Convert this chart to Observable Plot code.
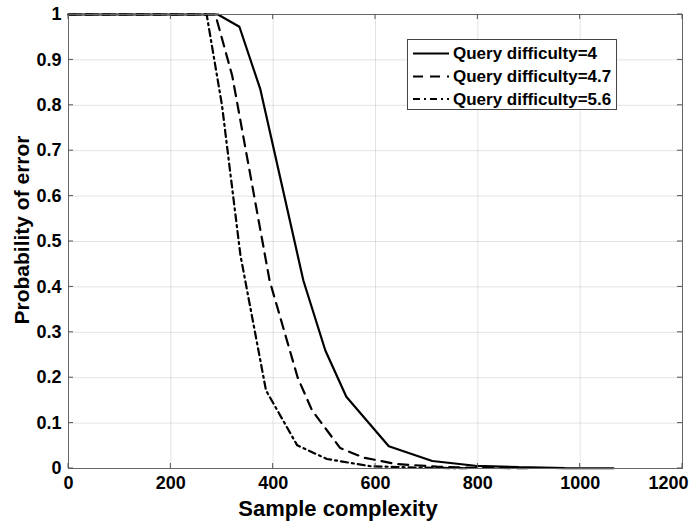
<!DOCTYPE html>
<html><head><meta charset="utf-8">
<script src="https://cdn.jsdelivr.net/npm/d3@7"></script>
<script src="https://cdn.jsdelivr.net/npm/@observablehq/plot@0.6"></script>
<style>html,body{margin:0;padding:0;background:#fff}#chart{width:689px;height:522px;overflow:hidden}</style>
</head><body><div id="chart"></div>
<script>
const seriesNames = ["Query difficulty=4", "Query difficulty=4.7", "Query difficulty=5.6"];
const x4  = [0, 292, 334, 375, 459, 502, 543, 626, 711, 795, 880, 970, 1065];
const y4  = [1, 1, 0.973, 0.835, 0.414, 0.26, 0.158, 0.049, 0.0165, 0.006, 0.003, 0.001, 0.0005];
const x47 = [0, 287, 320, 393, 448, 476, 531, 577, 640, 720, 800, 900];
const y47 = [1, 1, 0.865, 0.414, 0.20, 0.128, 0.045, 0.024, 0.01, 0.004, 0.0015, 0.0005];
const x56 = [0, 270, 300, 336, 386, 447, 505, 590, 680, 780];
const y56 = [1, 1, 0.80, 0.47, 0.172, 0.051, 0.021, 0.005, 0.002, 0.0005];
const xTicks = [0, 200, 400, 600, 800, 1000, 1200];
const yTicks = [0, 0.1, 0.2, 0.3, 0.4, 0.5, 0.6, 0.7, 0.8, 0.9, 1];
const xLabel = "Sample complexity";
const yLabel = "Probability of error";

(function () {
const styles = [
  {name: seriesNames[0], dash: null},
  {name: seriesNames[1], dash: "10,7"},
  {name: seriesNames[2], dash: "7,4,2,4"}
];
const toRows = (xs, ys, s) => xs.map((x, i) => ({x, y: ys[i], series: s}));
const rows = [
  toRows(x4, y4, seriesNames[0]),
  toRows(x47, y47, seriesNames[1]),
  toRows(x56, y56, seriesNames[2])
];
const font = "'Liberation Sans', Arial, Helvetica, sans-serif";

const chart = Plot.plot({
  width: 689, height: 522,
  marginLeft: 68, marginRight: 7, marginTop: 14, marginBottom: 54,
  style: {fontFamily: font, fontWeight: "bold", color: "#000", background: "#fff"},
  x: {domain: [0, 1200]},
  y: {domain: [0, 1]},
  marks: [
    Plot.gridX(xTicks, {stroke: "#000", strokeOpacity: 0.11}),
    Plot.gridY(yTicks, {stroke: "#000", strokeOpacity: 0.11}),
    ...rows.map((r, i) => Plot.line(r, {x: "x", y: "y", stroke: "#000", strokeWidth: 2.2,
      strokeDasharray: styles[i].dash, strokeLinejoin: "miter"})),
    Plot.frame({stroke: "#666"}),
    Plot.axisX(xTicks, {anchor: "bottom", tickSize: 0, tickPadding: 8, fontSize: 18, label: null, tickFormat: d => String(d)}),
    Plot.axisY(yTicks, {anchor: "left", tickSize: 0, tickPadding: 7, fontSize: 18, label: null, tickFormat: d => String(d)})
  ]
});
document.getElementById("chart").appendChild(chart);

const svg = d3.select(chart);
// keep the last x tick label inside the picture, as in the reference
svg.selectAll("text").filter(function () { return this.textContent === String(xTicks[xTicks.length - 1]); })
  .attr("text-anchor", "end").attr("dx", 6);

const sx = chart.scale("x"), sy = chart.scale("y");
const pl = sx.apply(0), pr = sx.apply(1200), pt = sy.apply(1), pb = sy.apply(0);
const tg = svg.append("g").attr("stroke", "#555").attr("stroke-width", 1);
xTicks.forEach(t => {
  const px = sx.apply(t);
  tg.append("line").attr("x1", px).attr("x2", px).attr("y1", pb).attr("y2", pb - 5);
  tg.append("line").attr("x1", px).attr("x2", px).attr("y1", pt).attr("y2", pt + 5);
});
yTicks.forEach(t => {
  const py = sy.apply(t);
  tg.append("line").attr("x1", pl).attr("x2", pl + 5).attr("y1", py).attr("y2", py);
  tg.append("line").attr("x1", pr).attr("x2", pr - 5).attr("y1", py).attr("y2", py);
});

svg.append("text").attr("x", 338).attr("y", 516).attr("text-anchor", "middle")
  .attr("font-size", 22).attr("font-weight", "bold").attr("font-family", font).text(xLabel);
svg.append("text").attr("transform", "translate(29,230) rotate(-90)").attr("text-anchor", "middle")
  .attr("font-size", 21).attr("font-weight", "bold").attr("font-family", font).text(yLabel);

const lg = svg.append("g");
lg.append("rect").attr("x", 407.5).attr("y", 39.5).attr("width", 209).attr("height", 70)
  .attr("fill", "#fff").attr("stroke", "#444").attr("stroke-width", 1);
const rowY = [53.5, 76.5, 99];
styles.forEach((s, i) => {
  lg.append("line").attr("x1", 413).attr("x2", 449).attr("y1", rowY[i]).attr("y2", rowY[i])
    .attr("stroke", "#000").attr("stroke-width", 2.2).attr("stroke-dasharray", s.dash);
  lg.append("text").attr("x", 453).attr("y", rowY[i]).attr("dy", "0.35em").attr("text-anchor", "start")
    .attr("font-size", 17).attr("font-weight", "bold").attr("font-family", font).text(s.name);
});
})();
</script>
</body></html>
